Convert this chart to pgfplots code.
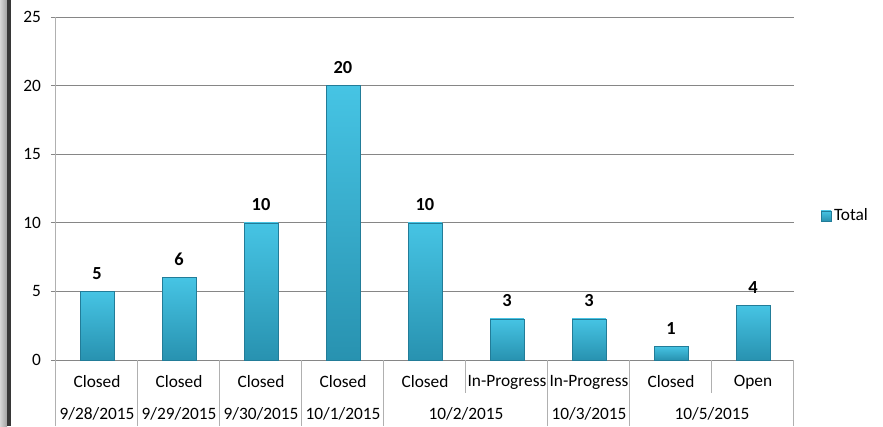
\documentclass[border=0pt]{standalone}
\usepackage{pgfplots}
\pgfplotsset{compat=1.18}
\usepackage{fontspec}
\setmainfont{Carlito}
\definecolor{barTop}{RGB}{70,196,228}
\definecolor{barBot}{RGB}{40,146,176}
\definecolor{barEdge}{RGB}{34,124,152}
\definecolor{gridc}{RGB}{134,134,134}
\definecolor{sepc}{RGB}{176,176,176}
\definecolor{stripL}{RGB}{214,214,214}
\definecolor{stripR}{RGB}{160,160,160}
\definecolor{stripD}{RGB}{55,55,55}
\begin{document}
\begin{tikzpicture}[x=1pt,y=1pt]
\useasboundingbox (0,0) rectangle (662.25,319.5);
\fill[left color=stripL, right color=stripR] (0,0) rectangle (5.4,319.5);
\fill[stripD] (5.4,0) rectangle (8,319.5);
\begin{axis}[
  at={(42pt,49.5pt)}, anchor=south west,
  scale only axis, width=553.5pt, height=257.25pt,
  xmin=-0.5, xmax=8.5, ymin=0, ymax=25,
  clip=false,
  axis y line*=left, axis x line*=bottom,
  y axis line style={sepc, line width=0.75pt},
  x axis line style={gridc, line width=0.75pt},
  ytick={0,5,...,25},
  ymajorgrids, grid style={gridc, line width=0.75pt},
  tick align=outside, major tick length=3.75pt,
  ytick style={gridc, line width=0.75pt},
  xtick={0,...,8},
  xticklabels={Closed,Closed,Closed,Closed,Closed,In-Progress,In-Progress,Closed,Open},
  xtick style={draw=none},
  /pgf/number format/assume math mode=true,
  tick label style={font=\fontsize{13}{15}\selectfont, text=black},
  yticklabel style={anchor=east, xshift=-4pt},
  xticklabel style={anchor=center, yshift=-12.75pt},
  extra x ticks={0,1,2,3,4.5,6,7.5},
  extra x tick labels={9/28/2015,9/29/2015,9/30/2015,10/1/2015,10/2/2015,10/3/2015,10/5/2015},
  extra x tick style={grid=none, xtick style={draw=none}, xticklabel style={yshift=-24pt}},
  nodes near coords,
  every node near coord/.append style={font=\bfseries\fontsize{13.8}{16}\selectfont, text=black, yshift=5.5pt},
  legend style={at={(1.036,0.42)}, anchor=west, draw=none, fill=none, inner sep=0pt,
    font=\fontsize{13}{15}\selectfont},
  legend image code/.code={\fill[top color=barTop, bottom color=barBot] (0pt,-3.75pt) rectangle (7.5pt,3.75pt);},
  barstyle/.style={ybar, bar width=0.41, bar shift=0pt, top color=barTop, bottom color=barBot, draw=barEdge, line width=0.4pt},
]
\addplot[barstyle] coordinates {(0,5)};
\addlegendentry{Total}
\addplot[barstyle, forget plot] coordinates {(1,6)};
\addplot[barstyle, forget plot] coordinates {(2,10)};
\addplot[barstyle, forget plot] coordinates {(3,20)};
\addplot[barstyle, forget plot] coordinates {(4,10)};
\addplot[barstyle, forget plot] coordinates {(5,3)};
\addplot[barstyle, forget plot] coordinates {(6,3)};
\addplot[barstyle, forget plot] coordinates {(7,1)};
\addplot[barstyle, forget plot] coordinates {(8,4)};
\draw[sepc, line width=0.75pt] (axis cs:-0.5,0) -- ++(0pt,-49.5pt);
\draw[sepc, line width=0.75pt] (axis cs:0.5,0) -- ++(0pt,-49.5pt);
\draw[sepc, line width=0.75pt] (axis cs:1.5,0) -- ++(0pt,-49.5pt);
\draw[sepc, line width=0.75pt] (axis cs:2.5,0) -- ++(0pt,-49.5pt);
\draw[sepc, line width=0.75pt] (axis cs:3.5,0) -- ++(0pt,-49.5pt);
\draw[sepc, line width=0.75pt] (axis cs:4.5,0) -- ++(0pt,-24.75pt);
\draw[sepc, line width=0.75pt] (axis cs:5.5,0) -- ++(0pt,-49.5pt);
\draw[sepc, line width=0.75pt] (axis cs:6.5,0) -- ++(0pt,-49.5pt);
\draw[sepc, line width=0.75pt] (axis cs:7.5,0) -- ++(0pt,-24.75pt);
\draw[sepc, line width=0.75pt] (axis cs:8.5,0) -- ++(0pt,-49.5pt);
\end{axis}
\end{tikzpicture}
\end{document}
